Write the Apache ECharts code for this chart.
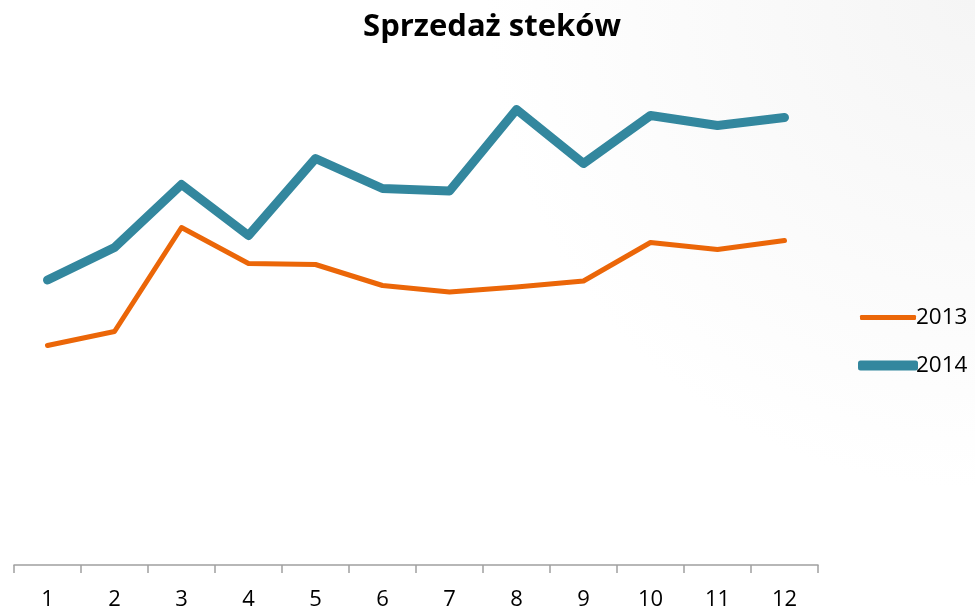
<!DOCTYPE html>
<html>
<head>
<meta charset="utf-8">
<script src="https://cdn.jsdelivr.net/npm/echarts@6/dist/echarts.min.js"></script>
<style>
	html, body { margin: 0; padding: 0; background: #fff; }
	#chart { width: 975px; height: 611px; }
</style>
</head>
<body>
<div id="chart"></div>
<script>
// miesiące
var months = ['1', '2', '3', '4', '5', '6', '7', '8', '9', '10', '11', '12'];
// sprzedaż (skala umowna)
var sales2013 = [43.9, 46.7, 67.5, 60.3, 60.1, 55.9, 54.6, 55.6, 56.8, 64.5, 63.1, 64.9];
var sales2014 = [57.0, 63.5, 76.1, 65.9, 81.3, 75.3, 74.8, 91.1, 80.3, 89.9, 87.9, 89.5];

var orange = '#eb6608';
var blue = '#33879e';
var font = '"Open Sans", "Noto Sans", sans-serif';

var myChart = echarts.init(document.getElementById('chart'));

var option = {
	backgroundColor: {
		type: 'radial',
		x: 1,
		y: 0,
		r: 0.8,
		colorStops: [{
			offset: 0,
			color: '#f5f5f5'
		}, {
			offset: 1,
			color: '#ffffff'
		}]
	},
	title: {
		text: 'Sprzedaż steków',
		left: 487,
		textAlign: 'center',
		top: 7,
		textStyle: {
			fontFamily: font,
			fontWeight: 'bold',
			fontSize: 31,
			color: '#000'
		}
	},
	legend: [{
		orient: 'vertical',
		left: 855,
		top: 301,
		itemWidth: 56,
		itemHeight: 5,
		itemGap: 0,
		icon: 'roundRect',
		textStyle: {
			fontFamily: font,
			fontSize: 22.5,
			color: '#000',
			padding: [0, 0, 0, -5]
		},
		data: [{ name: '2013', itemStyle: { color: orange } }]
	}, {
		orient: 'vertical',
		left: 853,
		top: 349,
		itemWidth: 60,
		itemHeight: 10,
		itemGap: 0,
		icon: 'roundRect',
		textStyle: {
			fontFamily: font,
			fontSize: 22.5,
			color: '#000',
			padding: [0, 0, 0, -7]
		},
		data: [{ name: '2014', itemStyle: { color: blue } }]
	}],
	grid: {
		left: 14,
		right: 157,
		top: 65,
		bottom: 46
	},
	xAxis: {
		type: 'category',
		boundaryGap: true,
		data: months,
		axisLine: {
			lineStyle: {
				color: '#a0a0a0',
				width: 1.5
			}
		},
		axisTick: {
			show: true,
			length: 8,
			alignWithLabel: false,
			lineStyle: {
				color: '#a0a0a0',
				width: 1.5
			}
		},
		axisLabel: {
			margin: 24,
			fontFamily: font,
			fontSize: 22,
			color: '#000'
		}
	},
	yAxis: {
		type: 'value',
		min: 0,
		max: 100,
		show: false,
		splitLine: { show: false }
	},
	series: [{
		name: '2013',
		type: 'line',
		data: sales2013,
		showSymbol: false,
		symbol: 'none',
		animation: false,
		lineStyle: {
			color: orange,
			width: 5,
			cap: 'round',
			join: 'round'
		},
		itemStyle: { color: orange }
	}, {
		name: '2014',
		type: 'line',
		data: sales2014,
		showSymbol: false,
		symbol: 'none',
		animation: false,
		lineStyle: {
			color: blue,
			width: 9,
			cap: 'round',
			join: 'round'
		},
		itemStyle: { color: blue }
	}]
};

myChart.setOption(option);
</script>
</body>
</html>
